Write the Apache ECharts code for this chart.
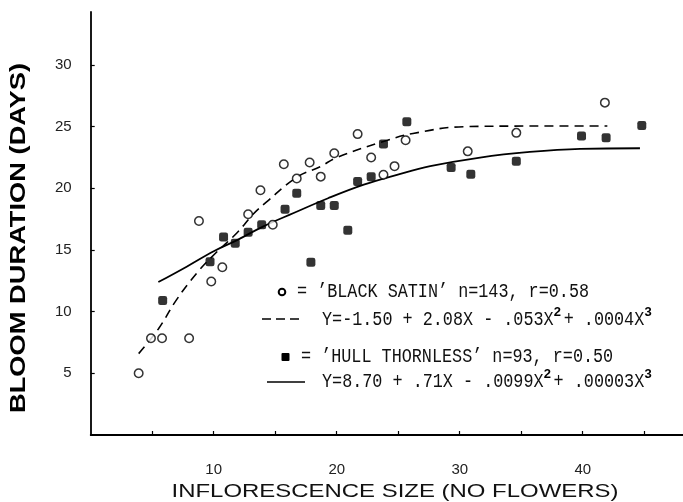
<!DOCTYPE html>
<html>
<head>
<meta charset="utf-8">
<script src="https://cdn.jsdelivr.net/npm/echarts@6/dist/echarts.min.js"></script>
<style>
  html, body { margin: 0; padding: 0; background: #fff; }
  #chart { width: 683px; height: 502px; }
</style>
</head>
<body>
<div id="chart"></div>
<script>
// 'Black Satin' observations (open circles), [flowers, days]
const satinPts = [
  [3.9, 5.0], [4.9, 7.85], [5.8, 7.85], [8.0, 7.85], [9.8, 12.45], [10.7, 13.6],
  [8.8, 17.35], [12.8, 17.9], [14.8, 17.05], [13.8, 19.85], [15.7, 21.95],
  [16.75, 20.8], [17.8, 22.1], [18.7, 20.95], [19.8, 22.85], [21.7, 24.4],
  [22.8, 22.5], [23.8, 21.1], [24.7, 21.8], [25.6, 23.9], [30.65, 23.0],
  [34.6, 24.5], [41.8, 26.95]
];
// 'Hull Thornless' observations (filled squares)
const hullPts = [
  [5.85, 10.9], [9.7, 14.05], [10.8, 16.05], [11.75, 15.55], [12.8, 16.45],
  [13.9, 17.05], [15.8, 18.3], [16.75, 19.6], [17.9, 14.0], [18.7, 18.6],
  [19.8, 18.6], [20.9, 16.6], [21.7, 20.55], [22.8, 20.95], [23.8, 23.6],
  [25.7, 25.4], [29.3, 21.7], [30.9, 21.15], [34.6, 22.2], [39.9, 24.25],
  [41.9, 24.1], [44.8, 25.1]
];
// fitted curves as drawn
const satinFit = [
  [3.9, 6.6], [5.5, 8.6], [7.0, 11.0], [8.6, 13.1], [10.0, 14.6], [11.9, 16.4],
  [13.2, 17.9], [14.3, 18.9], [16.75, 20.9], [18.65, 21.75], [20.0, 22.5],
  [23.8, 23.8], [26.2, 24.45], [30.3, 25.0], [35.7, 25.05], [42.0, 25.05]
];
const hullFit = [
  [5.5, 12.4], [7.8, 13.65], [10.0, 14.9], [11.9, 15.8], [14.0, 16.9],
  [16.5, 18.0], [19.3, 19.2], [22.2, 20.3], [24.9, 21.1], [27.6, 21.8],
  [31.65, 22.5], [35.7, 22.95], [39.8, 23.2], [44.65, 23.25]
];
const xTicks = [5, 10, 15, 20, 25, 30, 35, 40, 45];
const xLabels = [10, 20, 30, 40];
const yTicks = [5, 10, 15, 20, 25, 30];

const INK = '#000';
const MONO = '"Liberation Mono", "DejaVu Sans Mono", monospace';
const SANS = '"Liberation Sans", Arial, sans-serif';
const FS = 16.8;           // legend font size
const CW = FS * 0.6;       // mono char width

function label(x, y, text, opts) {
  return Object.assign({
    type: 'text', x: x, y: y, scaleY: 1.15,
    style: { text: text, fontFamily: MONO, fontSize: FS, fill: '#111', verticalAlign: 'middle' }
  }, opts || {});
}
function sup(x, y, text) {
  return {
    type: 'text', x: x, y: y,
    style: { text: text, fontFamily: SANS, fontSize: 13, fontWeight: 'bold', fill: INK, verticalAlign: 'middle' }
  };
}

// blank slot left where the superscript goes
const eq1 = 'Y=-1.50 + 2.08X - .053X + .0004X';
const eq2 = 'Y=8.70 + .71X - .0099X + .00003X';

const chart = echarts.init(document.getElementById('chart'));
chart.setOption({
  backgroundColor: '#fff',
  animation: false,
  grid: { left: 90.7, right: 0, top: 12, bottom: 67 },
  xAxis: {
    type: 'value', min: 0, max: 48.15,
    splitLine: { show: false },
    axisLine: { lineStyle: { color: INK, width: 1.8 } },
    axisTick: { inside: true, length: 4, customValues: xTicks, lineStyle: { color: INK, width: 1.2 } },
    axisLabel: { customValues: xLabels, margin: 27, color: '#222', fontFamily: SANS, fontSize: 15 }
  },
  yAxis: {
    type: 'value', min: 0, max: 34.3,
    splitLine: { show: false },
    axisLine: { lineStyle: { color: INK, width: 1.8 } },
    axisTick: { inside: true, length: 4, customValues: yTicks, lineStyle: { color: INK, width: 1.2 } },
    axisLabel: { customValues: yTicks, margin: 19, color: '#222', fontFamily: SANS, fontSize: 15 }
  },
  series: [
    {
      type: 'line', data: satinFit, smooth: 0.4, symbol: 'none', z: 1,
      lineStyle: { color: INK, width: 1.6, type: [9, 6] }
    },
    {
      type: 'line', data: hullFit, smooth: 0.4, symbol: 'none', z: 1,
      lineStyle: { color: INK, width: 1.8 }
    },
    {
      type: 'scatter', data: satinPts, symbol: 'circle', symbolSize: 8.5, z: 3,
      itemStyle: { color: '#fff', borderColor: INK, borderWidth: 1.5 }
    },
    {
      type: 'scatter', data: hullPts, symbol: 'roundRect', symbolSize: 9, z: 4,
      itemStyle: { color: INK }
    }
  ],
  graphic: [
    // axis titles
    {
      type: 'text', x: 19, y: 238, rotation: Math.PI / 2, scaleX: 1.24,
      style: { text: 'BLOOM DURATION (DAYS)', fontFamily: SANS, fontSize: 22, fontWeight: 'bold',
               fill: INK, align: 'center', verticalAlign: 'middle' }
    },
    {
      type: 'text', x: 395, y: 492, scaleX: 1.33, scaleY: 1.05,
      style: { text: 'INFLORESCENCE SIZE (NO FLOWERS)', fontFamily: SANS, fontSize: 18,
               fill: '#111', align: 'center', verticalAlign: 'middle' }
    },
    // key: Black Satin
    { type: 'circle', shape: { cx: 282, cy: 292, r: 3.3 }, style: { fill: '#fff', stroke: INK, lineWidth: 2 } },
    label(297, 292, '= \u2019BLACK SATIN\u2019 n=143, r=0.58'),
    { type: 'line', shape: { x1: 262, y1: 319, x2: 300, y2: 319 }, style: { stroke: INK, lineWidth: 1.5, lineDash: [9, 5] } },
    label(322, 320, eq1),
    sup(322 + 23 * CW, 312, '2'),
    sup(322 + 32 * CW, 312, '3'),
    // key: Hull Thornless
    { type: 'rect', shape: { x: 281.5, y: 353, width: 8, height: 8, r: 1 }, style: { fill: INK } },
    label(301, 357, '= \u2019HULL THORNLESS\u2019 n=93, r=0.50'),
    { type: 'line', shape: { x1: 267, y1: 382, x2: 305, y2: 382 }, style: { stroke: INK, lineWidth: 1.5 } },
    label(322, 382, eq2),
    sup(322 + 22 * CW, 374, '2'),
    sup(322 + 32 * CW, 374, '3')
  ]
});
</script>
</body>
</html>
